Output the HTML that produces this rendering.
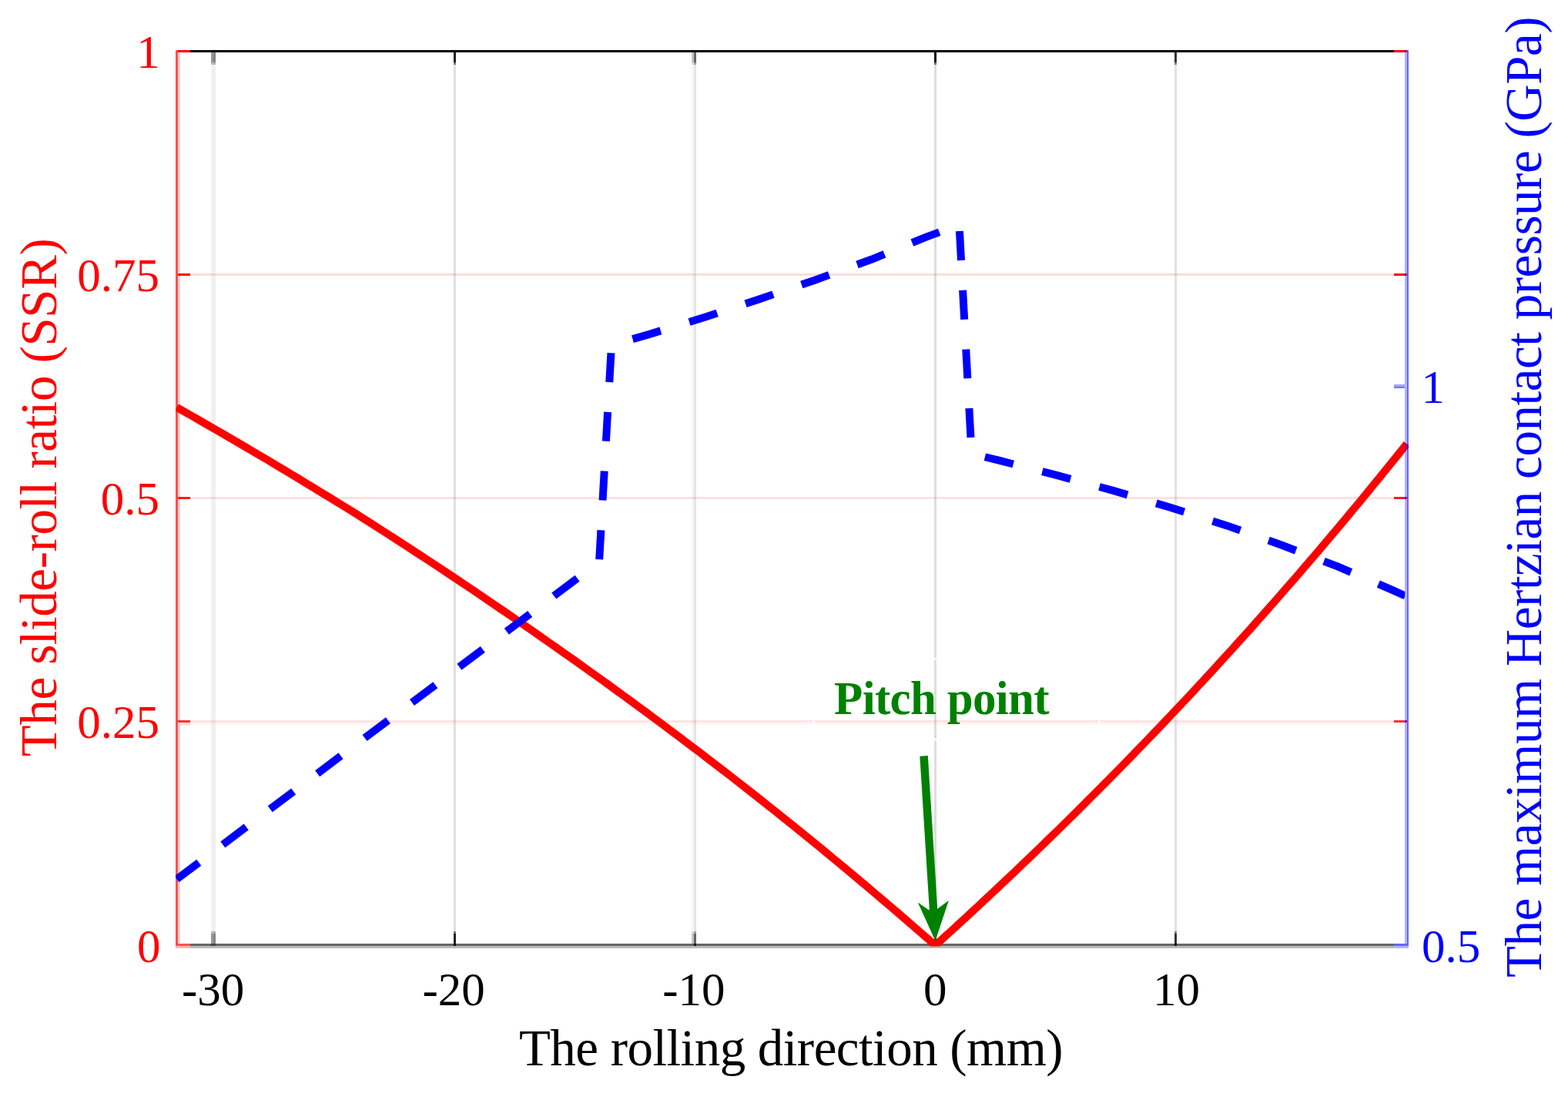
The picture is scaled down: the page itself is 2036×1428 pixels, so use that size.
<!DOCTYPE html>
<html lang="en">
<head>
<meta charset="utf-8">
<title>Slide-roll ratio and maximum Hertzian contact pressure</title>
<style>
html,body{margin:0;padding:0;background:#fff;}
body{width:2036px;height:1428px;overflow:hidden;}
svg{display:block;filter:blur(0.6px);}
text{font-family:"Liberation Serif",serif;}
</style>
</head>
<body>
<svg width="2036" height="1428" viewBox="0 0 2036 1428" role="img" aria-label="Slide-roll ratio and maximum Hertzian contact pressure along the rolling direction">
<rect x="0" y="0" width="2036" height="1428" fill="#fff"/>
<g id="grid" shape-rendering="crispEdges">
<rect x="274" y="68" width="2.8" height="1157" fill="#000" fill-opacity="0.055"/>
<rect x="276.8" y="68" width="2.8" height="1157" fill="#000" fill-opacity="0.063"/>
<rect x="586" y="68" width="3" height="1157" fill="#000" fill-opacity="0.016"/>
<rect x="589" y="68" width="3" height="1157" fill="#000" fill-opacity="0.118"/>
<rect x="898" y="68" width="3" height="1157" fill="#000" fill-opacity="0.035"/>
<rect x="901" y="68" width="3" height="1157" fill="#000" fill-opacity="0.102"/>
<rect x="1213" y="68" width="3" height="1157" fill="#000" fill-opacity="0.13"/>
<rect x="1525" y="68" width="3" height="1157" fill="#000" fill-opacity="0.11"/>
<rect x="1528" y="68" width="3" height="1157" fill="#000" fill-opacity="0.02"/>
<rect x="234" y="355" width="1590" height="3" fill="#f00" fill-opacity="0.137"/>
<rect x="234" y="645" width="1590" height="3" fill="#f00" fill-opacity="0.122"/>
<rect x="234" y="935" width="1590" height="3" fill="#f00" fill-opacity="0.106"/>
<rect x="234" y="938" width="1590" height="3" fill="#f00" fill-opacity="0.035"/>
</g>
<g id="axes" shape-rendering="crispEdges">
<rect x="247" y="65" width="1563" height="3" fill="#000"/>
<rect x="247" y="1225" width="1563" height="3" fill="#666"/>
<rect x="247" y="1228" width="1563" height="3" fill="#b8b8b8"/>
<rect x="274" y="68" width="2.8" height="13" fill="#989898"/>
<rect x="274" y="81" width="2.8" height="3" fill="#b9b9b9"/>
<rect x="274" y="1212" width="2.8" height="13" fill="#989898"/>
<rect x="274" y="1209" width="2.8" height="3" fill="#b9b9b9"/>
<rect x="276.8" y="68" width="2.8" height="13" fill="#868686"/>
<rect x="276.8" y="81" width="2.8" height="3" fill="#b0b0b0"/>
<rect x="276.8" y="1212" width="2.8" height="13" fill="#868686"/>
<rect x="276.8" y="1209" width="2.8" height="3" fill="#b0b0b0"/>
<rect x="589" y="68" width="3" height="13" fill="#222"/>
<rect x="589" y="81" width="3" height="3" fill="#777"/>
<rect x="589" y="1212" width="3" height="13" fill="#222"/>
<rect x="589" y="1209" width="3" height="3" fill="#777"/>
<rect x="898" y="68" width="3" height="13" fill="#c4c4c4"/>
<rect x="898" y="81" width="3" height="3" fill="#dcdcdc"/>
<rect x="898" y="1212" width="3" height="13" fill="#c4c4c4"/>
<rect x="898" y="1209" width="3" height="3" fill="#dcdcdc"/>
<rect x="901" y="68" width="3" height="13" fill="#666"/>
<rect x="901" y="81" width="3" height="3" fill="#a0a0a0"/>
<rect x="901" y="1212" width="3" height="13" fill="#666"/>
<rect x="901" y="1209" width="3" height="3" fill="#a0a0a0"/>
<rect x="1213" y="68" width="3" height="13" fill="#0a0a0a"/>
<rect x="1213" y="81" width="3" height="3" fill="#6c6c6c"/>
<rect x="1213" y="1212" width="3" height="13" fill="#0a0a0a"/>
<rect x="1213" y="1209" width="3" height="3" fill="#6c6c6c"/>
<rect x="1525" y="68" width="3" height="13" fill="#333"/>
<rect x="1525" y="81" width="3" height="3" fill="#808080"/>
<rect x="1525" y="1212" width="3" height="13" fill="#333"/>
<rect x="1525" y="1209" width="3" height="3" fill="#808080"/>
<rect x="589" y="65" width="3" height="3" fill="#000"/>
<rect x="589" y="1225" width="3" height="3" fill="#111"/>
<rect x="901" y="65" width="3" height="3" fill="#000"/>
<rect x="901" y="1225" width="3" height="3" fill="#111"/>
<rect x="1213" y="65" width="3" height="3" fill="#000"/>
<rect x="1213" y="1225" width="3" height="3" fill="#111"/>
<rect x="1525" y="65" width="3" height="3" fill="#000"/>
<rect x="1525" y="1225" width="3" height="3" fill="#111"/>
<rect x="274" y="1225" width="5.6" height="3" fill="#444"/>
<rect x="228" y="65" width="3" height="1163" fill="#ff4d4d"/>
<rect x="231" y="68" width="2.8" height="1157" fill="#ffcccc"/>
<rect x="231" y="65" width="16" height="3" fill="#ff0000"/>
<rect x="231" y="1225" width="16" height="3" fill="#ff5252"/>
<rect x="228" y="1228" width="19" height="3" fill="#ffb3b3"/>
<rect x="231" y="355" width="16" height="3" fill="#ff0000"/>
<rect x="1810" y="355" width="14" height="3" fill="#ff0000"/>
<rect x="1824" y="355" width="2.8" height="3" fill="#d01060"/>
<rect x="231" y="645" width="16" height="3" fill="#ff1a1a"/>
<rect x="1810" y="645" width="14" height="3" fill="#ff1a1a"/>
<rect x="1824" y="645" width="2.8" height="3" fill="#d01060"/>
<rect x="231" y="935" width="16" height="3" fill="#ff3333"/>
<rect x="1810" y="935" width="14" height="3" fill="#ff3333"/>
<rect x="1824" y="935" width="2.8" height="3" fill="#d01060"/>
<rect x="231" y="938" width="16" height="3" fill="#ffd6d6"/>
<rect x="1810" y="65" width="14" height="3" fill="#ff0000"/>
<rect x="1824" y="65" width="2.8" height="3" fill="#ff0000"/>
</g>
<defs><clipPath id="cr"><rect x="228" y="60" width="1601.2" height="1168.6"/></clipPath><clipPath id="cb"><rect x="228" y="60" width="1596.2" height="1171"/></clipPath></defs>
<path id="ssr" d="M229.5,528.8 L239.3,534.4 L249.2,540.0 L259.0,545.6 L268.9,551.3 L278.7,557.0 L288.6,562.7 L298.4,568.4 L308.3,574.1 L318.1,579.9 L328.0,585.7 L337.8,591.5 L347.7,597.3 L357.5,603.2 L367.4,609.1 L377.2,615.0 L387.1,620.9 L396.9,626.9 L406.8,632.9 L416.6,638.9 L426.5,644.9 L436.3,650.9 L446.2,657.0 L456.0,663.1 L465.9,669.3 L475.7,675.5 L485.6,681.8 L495.4,688.1 L505.3,694.4 L515.1,700.8 L525.0,707.1 L534.8,713.5 L544.7,720.0 L554.5,726.4 L564.4,732.9 L574.2,739.4 L584.1,746.0 L593.9,752.5 L603.8,759.1 L613.6,765.7 L623.5,772.4 L633.3,779.1 L643.2,785.8 L653.0,792.5 L662.9,799.2 L672.7,806.0 L682.6,812.9 L692.4,819.7 L702.3,826.6 L712.1,833.5 L722.0,840.4 L731.8,847.3 L741.6,854.2 L751.5,861.2 L761.3,868.2 L771.2,875.3 L781.0,882.3 L790.9,889.4 L800.7,896.6 L810.6,903.7 L820.4,910.9 L830.3,918.2 L840.1,925.4 L850.0,932.7 L859.8,940.0 L869.7,947.4 L879.5,954.8 L889.4,962.2 L899.2,969.7 L909.1,977.1 L918.9,984.7 L928.8,992.2 L938.6,999.8 L948.5,1007.4 L958.3,1015.1 L968.2,1022.8 L978.0,1030.5 L987.9,1038.3 L997.7,1046.1 L1007.6,1053.9 L1017.4,1061.8 L1027.3,1069.7 L1037.1,1077.7 L1047.0,1085.6 L1056.8,1093.7 L1066.7,1101.7 L1076.5,1109.8 L1086.4,1118.0 L1096.2,1126.1 L1106.1,1134.3 L1115.9,1142.6 L1125.8,1150.9 L1135.6,1159.2 L1145.5,1167.6 L1155.3,1176.0 L1165.2,1184.4 L1175.0,1192.9 L1184.9,1201.5 L1194.7,1210.0 L1204.6,1218.6 L1214.4,1227.3 L1220.5,1221.8 L1226.6,1216.2 L1232.8,1210.6 L1238.9,1205.1 L1245.0,1199.5 L1251.1,1193.8 L1257.3,1188.2 L1263.4,1182.5 L1269.5,1176.9 L1275.6,1171.2 L1281.7,1165.5 L1287.9,1159.7 L1294.0,1154.0 L1300.1,1148.2 L1306.2,1142.5 L1312.4,1136.7 L1318.5,1130.9 L1324.6,1125.0 L1330.7,1119.2 L1336.8,1113.3 L1343.0,1107.4 L1349.1,1101.5 L1355.2,1095.6 L1361.3,1089.7 L1367.5,1083.7 L1373.6,1077.7 L1379.7,1071.7 L1385.8,1065.7 L1391.9,1059.7 L1398.1,1053.6 L1404.2,1047.5 L1410.3,1041.4 L1416.4,1035.3 L1422.5,1029.2 L1428.7,1023.0 L1434.8,1016.9 L1440.9,1010.7 L1447.0,1004.5 L1453.2,998.2 L1459.3,992.0 L1465.4,985.7 L1471.5,979.4 L1477.6,973.1 L1483.8,966.8 L1489.9,960.4 L1496.0,954.1 L1502.1,947.7 L1508.3,941.2 L1514.4,934.8 L1520.5,928.4 L1526.6,921.9 L1532.7,915.4 L1538.9,908.9 L1545.0,902.3 L1551.1,895.8 L1557.2,889.2 L1563.4,882.6 L1569.5,875.9 L1575.6,869.3 L1581.7,862.6 L1587.8,855.9 L1594.0,849.2 L1600.1,842.5 L1606.2,835.7 L1612.3,828.9 L1618.5,822.1 L1624.6,815.3 L1630.7,808.4 L1636.8,801.5 L1642.9,794.6 L1649.1,787.7 L1655.2,780.8 L1661.3,773.8 L1667.4,766.8 L1673.5,759.8 L1679.7,752.7 L1685.8,745.7 L1691.9,738.6 L1698.0,731.5 L1704.2,724.3 L1710.3,717.2 L1716.4,710.0 L1722.5,702.8 L1728.6,695.5 L1734.8,688.3 L1740.9,681.0 L1747.0,673.7 L1753.1,666.3 L1759.3,658.9 L1765.4,651.6 L1771.5,644.1 L1777.6,636.7 L1783.7,629.2 L1789.9,621.7 L1796.0,614.2 L1802.1,606.7 L1808.2,599.1 L1814.4,591.5 L1820.5,583.9 L1826.6,576.2" fill="none" stroke="#ff0000" stroke-width="10" stroke-linejoin="miter" clip-path="url(#cr)"/>
<g id="axis-right" shape-rendering="crispEdges">
<rect x="1824" y="65" width="2.8" height="1160" fill="#00f" fill-opacity="0.3"/>
<rect x="1826.8" y="65" width="2.4" height="1160" fill="#00f" fill-opacity="0.6"/>
<rect x="1810" y="1225" width="19.2" height="3" fill="#6666ff"/>
<rect x="1810" y="1228" width="19.2" height="3" fill="#b3b3ff"/>
<rect x="1810" y="499" width="14" height="2.5" fill="#a4a4ff"/>
<rect x="1810" y="501.5" width="14" height="2.5" fill="#7474ff"/>
</g>
<path id="pressure" d="M229.5,1141.3 L778.0,729.5 L794.0,448.0 L840.9,434.6 L914.5,412.0 L986.4,388.2 L1058.7,363.4 L1131.5,336.8 L1202.1,307.9 L1219.9,301.3 L1245.4,289.5 L1261.6,589.0 L1297.0,597.7 L1371.0,616.6 L1445.4,636.9 L1518.7,658.5 L1593.2,682.4 L1664.6,707.8 L1736.9,735.4 L1807.2,765.7 L1826.5,774.3" fill="none" stroke="#0000ff" stroke-width="10" stroke-dasharray="38 38.8" stroke-dashoffset="2" stroke-linejoin="miter" clip-path="url(#cb)"/>
<rect x="1056.7" y="855.3" width="370.7" height="104.7" fill="none" stroke="#fff" stroke-width="3" stroke-opacity="0.85"/>
<path d="M1199.6,981.3 L1212.6,1190" fill="none" stroke="#008000" stroke-width="10.5"/>
<path d="M1214.5,1221.5 L1191.8,1171.5 L1205.5,1181 L1216.7,1180.3 L1231.9,1168.9 Z" fill="#008000"/>
<g id="labels" font-family="'Liberation Serif', serif">
<text x="207.7" y="87.5" font-size="61" fill="#ff0000" text-anchor="end">1</text>
<text x="207" y="377.7" font-size="61" fill="#ff0000" text-anchor="end">0.75</text>
<text x="207" y="668" font-size="61" fill="#ff0000" text-anchor="end">0.5</text>
<text x="207" y="958.2" font-size="61" fill="#ff0000" text-anchor="end">0.25</text>
<text x="208.5" y="1248.5" font-size="61" fill="#ff0000" text-anchor="end">0</text>
<text x="276.6" y="1304.5" font-size="61" fill="#000" text-anchor="middle">-30</text>
<text x="589.1" y="1304.5" font-size="61" fill="#000" text-anchor="middle">-20</text>
<text x="900.8" y="1304.5" font-size="61" fill="#000" text-anchor="middle">-10</text>
<text x="1214.2" y="1304.5" font-size="61" fill="#000" text-anchor="middle">0</text>
<text x="1527.6" y="1304.5" font-size="61" fill="#000" text-anchor="middle">10</text>
<text x="1845.5" y="523" font-size="61" fill="#0000ff" text-anchor="start">1</text>
<text x="1846" y="1249" font-size="61" fill="#0000ff" text-anchor="start">0.5</text>
<text x="1027" y="1382.7" font-size="67" fill="#000" text-anchor="middle" letter-spacing="-0.54">The rolling direction (mm)</text>
<text x="0" y="0" font-size="67" fill="#ff0000" text-anchor="middle" letter-spacing="-0.4" transform="translate(73.2,645.9) rotate(-90)">The slide-roll ratio (SSR)</text>
<text x="0" y="0" font-size="67" fill="#0000ff" text-anchor="middle" letter-spacing="-0.46" transform="translate(2000.6,645.4) rotate(-90)">The maximum Hertzian contact pressure (GPa)</text>
<text x="1222.5" y="926.8" font-size="61" fill="#008000" text-anchor="middle" letter-spacing="-0.68" font-weight="bold">Pitch point</text>
</g>
</svg>
</body>
</html>
